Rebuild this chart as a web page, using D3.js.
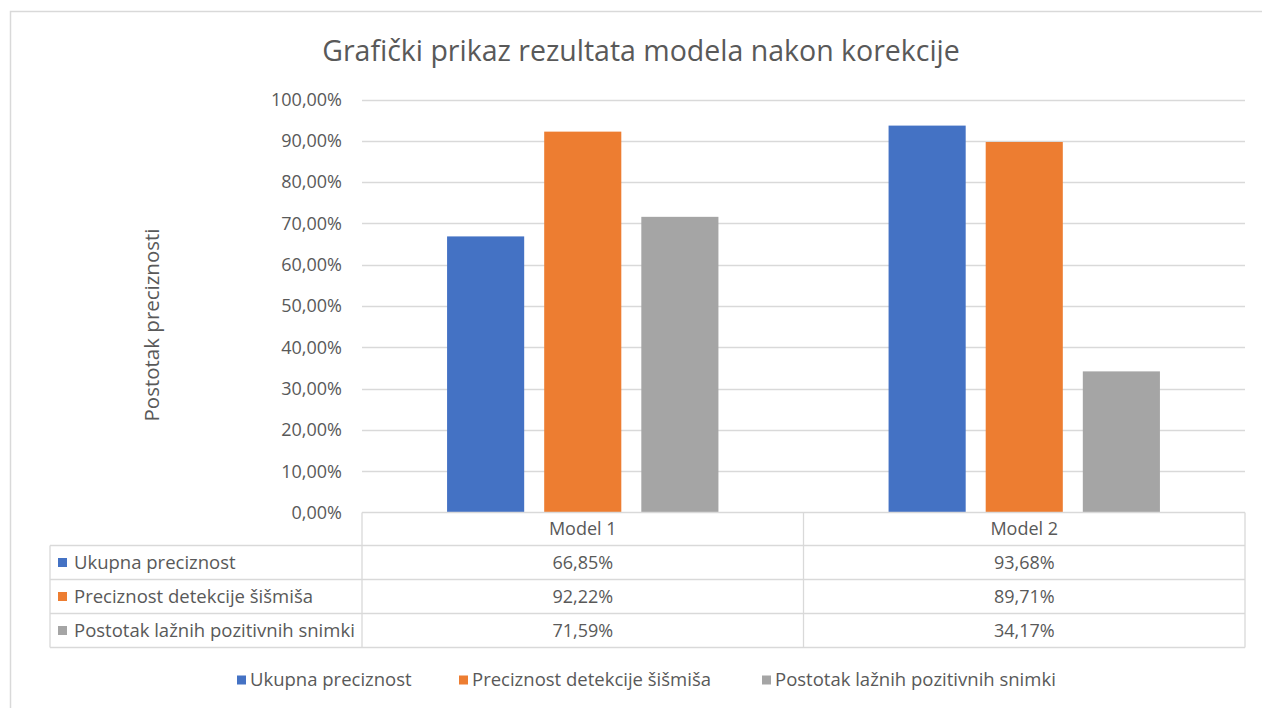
<!DOCTYPE html>
<html>
<head>
<meta charset="utf-8">
<script src="https://cdn.jsdelivr.net/npm/d3@7"></script>
<style>
  body { margin: 0; background: #fff; }
  svg text { font-family: "Open Sans", Lato, sans-serif; fill: #595959; }
</style>
</head>
<body>
<svg id="chart" width="1262" height="708"></svg>
<script>
// chart data
var categories = ['Model 1', 'Model 2'];
var seriesNames = ['Ukupna preciznost', 'Preciznost detekcije šišmiša', 'Postotak lažnih pozitivnih snimki'];
var ukupna = [0.6685, 0.9368];
var detekcija = [0.9222, 0.8971];
var lazni = [0.7159, 0.3417];
var yTicks = [0, 0.1, 0.2, 0.3, 0.4, 0.5, 0.6, 0.7, 0.8, 0.9, 1.0];

var colors = ['#4472C4', '#ED7D31', '#A5A5A5'];
var seriesValues = [ukupna, detekcija, lazni];

var svg = d3.select('#chart');
var gridColor = '#d9d9d9';

// outer frame
svg.append('path')
  .attr('d', 'M10.5,720 V11.5 H1270')
  .attr('fill', 'none')
  .attr('stroke', gridColor)
  .attr('stroke-width', 1.5);

var plotLeft = 362, plotRight = 1245, plotTop = 99.5, plotBottom = 512.5;

var x = d3.scaleBand()
  .domain(categories)
  .range([plotLeft, plotRight]);

var xInner = d3.scaleBand()
  .domain(seriesNames)
  .range([0, x.bandwidth()])
  .paddingInner(0.206)
  .paddingOuter(0.876);

var y = d3.scaleLinear()
  .domain([0, 1])
  .range([plotBottom, plotTop]);

function fmtPct(v) {
  return d3.format('.2f')(v * 100).replace('.', ',') + '%';
}

// gridlines
svg.append('g')
  .selectAll('line')
  .data(yTicks.slice(1))
  .enter()
  .append('line')
    .attr('x1', plotLeft)
    .attr('x2', plotRight)
    .attr('y1', d => Math.round(y(d)) + 0.5)
    .attr('y2', d => Math.round(y(d)) + 0.5)
    .attr('stroke', gridColor)
    .attr('stroke-width', 1.3);

// y tick labels
svg.append('g')
  .selectAll('text')
  .data(yTicks)
  .enter()
  .append('text')
    .attr('x', 342)
    .attr('y', d => y(d))
    .attr('dy', '0.35em')
    .attr('text-anchor', 'end')
    .style('font-size', '18px')
    .text(fmtPct);

// axis title
svg.append('text')
  .attr('transform', 'translate(159,325) rotate(-90)')
  .attr('text-anchor', 'middle')
  .style('font-size', '20.5px')
  .text('Postotak preciznosti');

// chart title
svg.append('text')
  .attr('x', 641)
  .attr('y', 61)
  .attr('text-anchor', 'middle')
  .style('font-size', '28.5px')
  .text('Grafički prikaz rezultata modela nakon korekcije');

// bars
var groups = svg.append('g')
  .selectAll('g')
  .data(categories)
  .enter()
  .append('g')
    .attr('transform', d => `translate(${x(d)},0)`);

groups.selectAll('rect')
  .data((c, ci) => seriesNames.map((s, si) => ({ series: s, si: si, value: seriesValues[si][ci] })))
  .enter()
  .append('rect')
    .attr('x', d => xInner(d.series))
    .attr('width', xInner.bandwidth())
    .attr('y', d => y(d.value))
    .attr('height', d => y(0) - y(d.value))
    .attr('fill', d => colors[d.si]);

// data table
var tableLeft = 50;
var rowEdges = [512.5, 545.5, 579.5, 613.5, 647.5];
var table = svg.append('g');

function hLine(x1, x2, yy) {
  table.append('line')
    .attr('x1', x1).attr('x2', x2)
    .attr('y1', yy).attr('y2', yy)
    .attr('stroke', gridColor).attr('stroke-width', 1.3);
}
function vLine(xx, y1, y2) {
  table.append('line')
    .attr('x1', xx).attr('x2', xx)
    .attr('y1', y1).attr('y2', y2)
    .attr('stroke', gridColor).attr('stroke-width', 1.3);
}

hLine(plotLeft, plotRight, rowEdges[0]);
rowEdges.slice(1).forEach(r => hLine(tableLeft, plotRight, r));
vLine(tableLeft, rowEdges[1], rowEdges[4]);
vLine(plotLeft, rowEdges[0], rowEdges[4]);
vLine(x('Model 2'), rowEdges[0], rowEdges[4]);
vLine(plotRight, rowEdges[0], rowEdges[4]);

// header row
table.selectAll('.cat-label')
  .data(categories)
  .enter()
  .append('text')
    .attr('class', 'cat-label')
    .attr('x', d => x(d) + x.bandwidth() / 2)
    .attr('y', (rowEdges[0] + rowEdges[1]) / 2)
    .attr('dy', '0.35em')
    .attr('text-anchor', 'middle')
    .style('font-size', '18px')
    .text(d => d);

seriesNames.forEach((s, si) => {
  var cy = (rowEdges[si + 1] + rowEdges[si + 2]) / 2;
  table.append('rect')
    .attr('x', 58).attr('y', cy - 4.5)
    .attr('width', 9).attr('height', 9)
    .attr('fill', colors[si]);
  table.append('text')
    .attr('x', 74).attr('y', cy)
    .attr('dy', '0.35em')
    .style('font-size', '18.5px')
    .text(s);
  categories.forEach((c, ci) => {
    table.append('text')
      .attr('x', x(c) + x.bandwidth() / 2)
      .attr('y', cy)
      .attr('dy', '0.35em')
      .attr('text-anchor', 'middle')
      .style('font-size', '18px')
      .text(fmtPct(seriesValues[si][ci]));
  });
});

// legend
var legend = svg.append('g');
var legendY = 680;
var items = legend.selectAll('g')
  .data(seriesNames)
  .enter()
  .append('g');

items.append('rect')
  .attr('x', 0).attr('y', legendY - 4.5)
  .attr('width', 9).attr('height', 9)
  .attr('fill', (d, i) => colors[i]);

items.append('text')
  .attr('x', 13)
  .attr('y', legendY)
  .attr('dy', '0.35em')
  .style('font-size', '18.5px')
  .text(d => d);

var legendX = [237, 459, 762];
items.attr('transform', (d, i) => `translate(${legendX[i]},0)`);
</script>
</body>
</html>
